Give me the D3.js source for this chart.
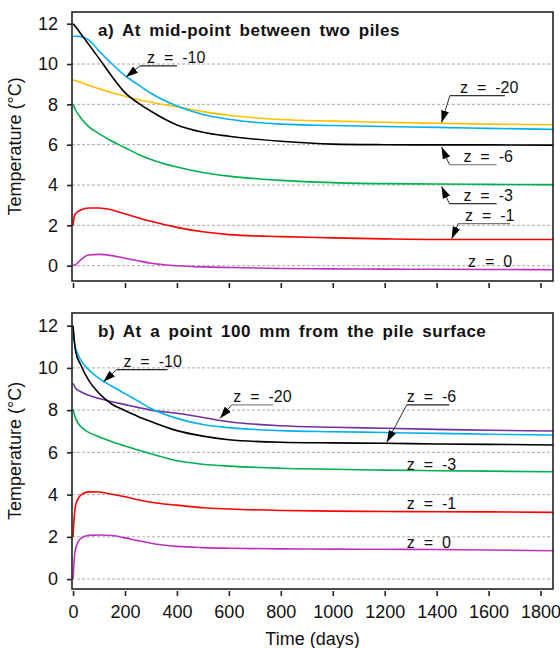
<!DOCTYPE html>
<html>
<head>
<meta charset="utf-8">
<script src="https://cdn.jsdelivr.net/npm/d3@7"></script>
<style>
  body { margin: 0; background: #fff; }
  svg text { font-family: "Liberation Sans", Arial, sans-serif; fill: #111; }
</style>
</head>
<body>
<svg id="chart" width="560" height="648"></svg>
<script>
// sample days shared by every curve
const days = [0, 5, 10, 30, 60, 100, 150, 200, 250, 300, 400, 500, 600, 800, 1000, 1200, 1400, 1600, 1850];

// a) mid-point between two piles
const midZ10 = [11.38, 11.38, 11.38, 11.36, 11.2, 10.65, 10.0, 9.42, 8.98, 8.55, 7.92, 7.5, 7.26, 7.02, 6.95, 6.9, 6.86, 6.81, 6.76];
const midZ20 = [9.2, 9.19, 9.17, 9.1, 8.95, 8.78, 8.58, 8.4, 8.24, 8.1, 7.88, 7.64, 7.46, 7.25, 7.17, 7.11, 7.06, 7.02, 6.99];
const midZ6  = [12.0, 11.93, 11.85, 11.5, 10.98, 10.28, 9.38, 8.58, 8.07, 7.66, 6.98, 6.62, 6.42, 6.17, 6.03, 6.0, 5.99, 5.99, 5.98];
const midZ3  = [8.0, 7.85, 7.72, 7.32, 6.9, 6.55, 6.17, 5.85, 5.53, 5.27, 4.89, 4.62, 4.44, 4.23, 4.12, 4.07, 4.05, 4.03, 4.02];
const midZ1  = [2.0, 2.45, 2.58, 2.76, 2.86, 2.86, 2.76, 2.57, 2.38, 2.2, 1.9, 1.68, 1.54, 1.44, 1.38, 1.33, 1.3, 1.3, 1.3];
const midZ0  = [0.02, 0.03, 0.05, 0.3, 0.53, 0.56, 0.5, 0.37, 0.24, 0.12, 0.0, -0.06, -0.09, -0.14, -0.16, -0.17, -0.18, -0.19, -0.2];

// b) 100 mm from the pile surface
const nearZ10 = [11.48, 11.2, 10.93, 10.37, 9.92, 9.5, 9.13, 8.78, 8.43, 8.08, 7.61, 7.32, 7.17, 7.03, 6.98, 6.94, 6.9, 6.86, 6.82];
const nearZ20 = [9.27, 9.15, 9.03, 8.87, 8.7, 8.55, 8.4, 8.26, 8.13, 8.0, 7.85, 7.65, 7.45, 7.26, 7.19, 7.14, 7.09, 7.05, 7.01];
const nearZ6  = [12.0, 11.3, 10.77, 10.14, 9.42, 8.8, 8.28, 7.98, 7.7, 7.46, 7.03, 6.77, 6.6, 6.48, 6.45, 6.43, 6.4, 6.38, 6.35];
const nearZ3  = [8.05, 7.8, 7.61, 7.22, 6.95, 6.74, 6.5, 6.3, 6.11, 5.93, 5.6, 5.44, 5.35, 5.25, 5.2, 5.16, 5.13, 5.11, 5.08];
const nearZ1  = [2.0, 3.0, 3.5, 3.98, 4.13, 4.12, 4.02, 3.9, 3.76, 3.64, 3.5, 3.38, 3.32, 3.25, 3.22, 3.2, 3.19, 3.18, 3.16];
const nearZ0  = [0.0, 1.0, 1.45, 1.93, 2.07, 2.09, 2.06, 1.95, 1.82, 1.7, 1.55, 1.49, 1.46, 1.43, 1.42, 1.41, 1.4, 1.38, 1.34];

const xTicks = [0, 200, 400, 600, 800, 1000, 1200, 1400, 1600, 1800];
const yTicks = [0, 2, 4, 6, 8, 10, 12];
const gridVals = [0, 2, 4, 6, 8, 10];

// labels: text at (t, v), underline from u0 to u1, arrow tip at (tipT, tipV)
const notesA = [
  { label: "z = -10", t: 285, v: 10.03, u0: 258, u1: 400, tipT: 204, tipV: 9.36, ul: "#222" },
  { label: "z = -20", t: 1490, v: 8.56, u0: 1451, u1: 1663, tipT: 1419, tipV: 7.1, ul: "#333" },
  { label: "z = -6", t: 1503, v: 5.14, u0: 1449, u1: 1631, tipT: 1419, tipV: 5.88, ul: "#888" },
  { label: "z = -3", t: 1503, v: 3.2, u0: 1449, u1: 1631, tipT: 1419, tipV: 3.93, ul: "#333" },
  { label: "z = -1", t: 1509, v: 2.21, u0: 1483, u1: 1683, tipT: 1458, tipV: 1.34, ul: "#777" },
  { label: "z = 0", t: 1521, v: -0.07 }
];
const notesB = [
  { label: "z = -10", t: 194, v: 10.04, u0: 168, u1: 364, tipT: 117, tipV: 9.34, ul: "#222" },
  { label: "z = -20", t: 617, v: 8.37, u0: 611, u1: 771, tipT: 566, tipV: 7.61, ul: "#888" },
  { label: "z = -6", t: 1285, v: 8.37, u0: 1285, u1: 1449, tipT: 1208, tipV: 6.48, ul: "#222" },
  { label: "z = -3", t: 1285, v: 5.16 },
  { label: "z = -1", t: 1285, v: 3.32 },
  { label: "z = 0", t: 1285, v: 1.48 }
];

const panels = [
  {
    title: "a) At mid-point between two piles", top: 12, bottom: 281, yDomain: [-0.76, 12.58], showX: false,
    series: [[midZ20, "#ffc000"], [midZ10, "#00b0f0"], [midZ6, "#000"], [midZ3, "#00b050"], [midZ1, "#ff0000"], [midZ0, "#c030c0"]],
    notes: notesA
  },
  {
    title: "b) At a point 100 mm from the pile surface", top: 313, bottom: 589, yDomain: [-0.47, 12.6], showX: true,
    series: [[nearZ20, "#7030a0"], [nearZ10, "#00b0f0"], [nearZ6, "#000"], [nearZ3, "#00b050"], [nearZ1, "#ff0000"], [nearZ0, "#c030c0"]],
    notes: notesB
  }
];

const left = 72, right = 553;
const svg = d3.select("#chart");
const x = d3.scaleLinear().domain([-4, 1848]).range([left, right]);

svg.append("defs").append("marker")
  .attr("id", "arrow")
  .attr("viewBox", "0 0 12 8")
  .attr("refX", 12).attr("refY", 4)
  .attr("markerWidth", 12).attr("markerHeight", 8)
  .attr("markerUnits", "userSpaceOnUse")
  .attr("orient", "auto")
  .append("path").attr("d", "M0,0L12,4L0,8Z").attr("fill", "#000");

panels.forEach(p => {
  const y = d3.scaleLinear().domain(p.yDomain).range([p.bottom, p.top]);
  const g = svg.append("g");

  // grid
  g.selectAll(".grid").data(gridVals).enter().append("line")
    .attr("x1", left).attr("x2", right)
    .attr("y1", d => y(d)).attr("y2", d => y(d))
    .attr("stroke", "#aaa").attr("stroke-width", 1).attr("stroke-dasharray", "3,2");

  // curves
  const line = d3.line().x(d => x(d[0])).y(d => y(d[1])).curve(d3.curveMonotoneX);
  p.series.forEach(([vals, color]) => {
    g.append("path")
      .datum(days.map((t, i) => [t, vals[i]]))
      .attr("d", line)
      .attr("fill", "none").attr("stroke", color).attr("stroke-width", 1.6);
  });

  // frame
  g.append("rect")
    .attr("x", left).attr("y", p.top)
    .attr("width", right - left).attr("height", p.bottom - p.top)
    .attr("fill", "none").attr("stroke", "#222").attr("stroke-width", 1.6);

  // y axis
  const ya = g.append("g").attr("transform", `translate(${left},0)`)
    .call(d3.axisLeft(y).tickValues(yTicks).tickSize(5).tickPadding(9).tickFormat(d3.format("d")));
  ya.select(".domain").remove();
  ya.selectAll("line").attr("stroke", "#222").attr("stroke-width", 1.6);
  ya.selectAll("text").attr("font-size", 18).attr("fill", "#111");

  // x axis (ticks sit just below the frame)
  const xa = g.append("g").attr("transform", `translate(0,${p.bottom + 2})`)
    .call(d3.axisBottom(x).tickValues(xTicks).tickSize(5).tickPadding(9)
      .tickFormat(p.showX ? d3.format("d") : ""));
  xa.select(".domain").remove();
  xa.selectAll("line").attr("stroke", "#222").attr("stroke-width", 1.6);
  xa.selectAll("text").attr("font-size", 18).attr("fill", "#111");

  // title
  g.append("text")
    .attr("x", left + 26).attr("y", p.top + 24)
    .attr("font-size", 17).attr("font-weight", "bold")
    .attr("letter-spacing", 0.5).attr("word-spacing", 3.2)
    .text(p.title);

  // y title
  g.append("text")
    .attr("transform", `translate(21,${(p.top + p.bottom) / 2}) rotate(-90)`)
    .attr("text-anchor", "middle").attr("font-size", 18)
    .text("Temperature (°C)");

  // curve labels
  p.notes.forEach(n => {
    g.append("text")
      .attr("x", x(n.t)).attr("y", y(n.v))
      .attr("font-size", 16).attr("word-spacing", 4.5)
      .text(n.label);
    if (n.u0 !== undefined) {
      const uy = y(n.v) + 2.5;
      g.append("line")
        .attr("x1", x(n.u0)).attr("x2", x(n.u1)).attr("y1", uy).attr("y2", uy)
        .attr("stroke", n.ul).attr("stroke-width", 1.2);
      g.append("line")
        .attr("x1", x(n.u0)).attr("y1", uy)
        .attr("x2", x(n.tipT)).attr("y2", y(n.tipV))
        .attr("stroke", "#333").attr("stroke-width", 1)
        .attr("marker-end", "url(#arrow)");
    }
  });
});

svg.append("text")
  .attr("x", (left + right) / 2).attr("y", 645)
  .attr("text-anchor", "middle").attr("font-size", 18)
  .text("Time (days)");
</script>
</body>
</html>
